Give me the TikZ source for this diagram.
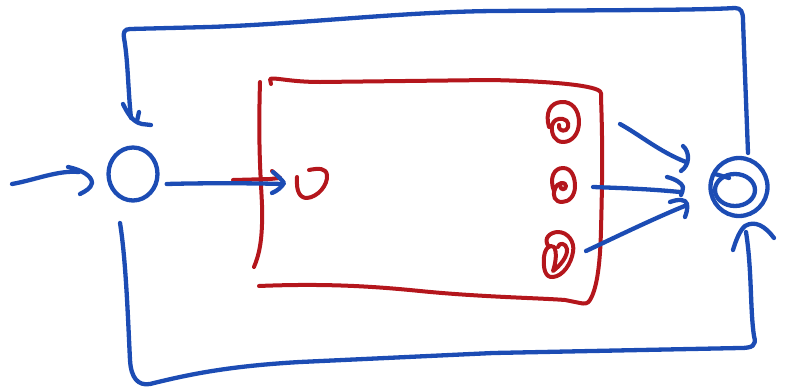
\documentclass[tikz,border=0pt]{standalone}
\usetikzlibrary{shapes.geometric}
\definecolor{inkblue}{RGB}{28,76,180}
\definecolor{inkred}{RGB}{180,22,28}
\begin{document}
\begin{tikzpicture}[x=1pt,y=-1pt,
  blueink/.style={draw=inkblue,line width=4.3pt,line cap=round,line join=round},
  redink/.style={draw=inkred,line width=4pt,line cap=round,line join=round},
  loopnode/.style={ellipse,draw=inkblue,line width=4.3pt,inner sep=0pt}]
\useasboundingbox (0,0) rectangle (785,389);

% ---------- nodes ----------
\node[loopnode,minimum width=49pt,minimum height=53pt] (A) at (133,174) {};
\node[loopnode,minimum width=57pt,minimum height=58pt] (C) at (739,187) {};
\coordinate (B) at (312,184);
\coordinate (R1) at (563,122);
\coordinate (R2) at (563,185);
\coordinate (R3) at (558,255);

% ---------- red box ----------
\draw[redink] (260,82) .. controls (258,150) and (261,180) .. (262,205)
  .. controls (263,240) and (259,255) .. (254,267);
\draw[redink] (271,84) -- (270,79) .. controls (274,77) and (290,82) .. (320,82)
  -- (490,80) .. controls (540,81) and (585,84) .. (598,90)
  .. controls (602,92) and (601,94) .. (601,98)
  .. controls (603,150) and (602,190) .. (601,230)
  .. controls (600,270) and (596,290) .. (590,300)
  .. controls (588,304) and (584,304) .. (580,303);
\draw[redink] (259,286) .. controls (330,283) and (380,287) .. (420,291)
  .. controls (480,297) and (540,298) .. (565,300) -- (580,303);
\draw[redink] (233,180) -- (270,179) -- (280,178);
\draw[redink] (272,171) -- (280,178);

% red glyphs
\draw[redink] (B) ++(-15,-7) .. controls +(-1,15) and +(-7,0) .. ++(10,21)
  .. controls +(11,-1) and +(1,10) .. ++(20,-23)
  .. controls +(-1,-7) and +(10,-2) .. ++(-18,-5);
\draw[redink] (549,127) .. controls (545,113) and (550,103) .. (561,102)
  .. controls (572,101) and (579,110) .. (579,122)
  .. controls (579,134) and (572,142) .. (563,142)
  .. controls (555,142) and (551,134) .. (552,126)
  .. controls (553,120) and (558,118) .. (563,119)
  .. controls (569,120) and (570,127) .. (566,130)
  .. controls (562,132) and (558,129) .. (559,125);
\draw[redink] (554,191) .. controls (549,178) and (554,168) .. (563,168)
  .. controls (572,168) and (575,178) .. (575,186)
  .. controls (575,196) and (569,202) .. (562,202)
  .. controls (555,202) and (552,196) .. (555,189)
  .. controls (557,182) and (566,181) .. (566,186)
  .. controls (566,190) and (560,191) .. (560,185);
\draw[redink] (549,247) .. controls (542,238) and (551,232) .. (558,232)
  .. controls (568,232) and (575,242) .. (573,252)
  .. controls (571,264) and (563,276) .. (553,277)
  .. controls (545,278) and (543,268) .. (544,257)
  .. controls (545,248) and (550,244) .. (554,247)
  .. controls (557,252) and (556,262) .. (553,271)
  .. controls (560,266) and (568,256) .. (567,249)
  .. controls (566,243) and (559,242) .. (558,247);

% ---------- blue strokes ----------
% inner loop of right node
\draw[blueink] (C.center) ++(-4,3) ellipse [x radius=20pt,y radius=16pt];
\draw[blueink] (715,174) -- (729,178);

% input arrow
\coordinate (in) at (12,184);
\draw[blueink] (in) .. controls (35,180) and (58,170) .. (79,172);
\draw[blueink] (68,167) .. controls (82,170) and (92,176) .. (92,183)
  .. controls (91,188) and (86,191) .. (80,194);

% A -> B
\draw[blueink] (A.east) ++(7,10) .. controls (200,183) and (250,183) .. (282,184);
\draw[blueink] (273,172) .. controls (278,176) and (282,180) .. (284,183)
  .. controls (282,187) and (277,191) .. (272,193);

% glyphs -> C
\draw[blueink] (620,124) .. controls (640,135) and (660,152) .. (686,162);
\draw[blueink] (683,146) .. controls (690,152) and (690,165) .. (681,171);
\draw[blueink] (593,187) .. controls (620,188) and (650,189) .. (680,192);
\draw[blueink] (667,177) .. controls (675,179) and (682,183) .. (683,187)
  .. controls (683,190) and (682,193) .. (681,195);
\draw[blueink] (586,251) .. controls (620,235) and (655,218) .. (687,205);
\draw[blueink] (670,202) .. controls (678,199) and (686,199) .. (687,204)
  .. controls (688,209) and (686,214) .. (685,217);

% feedback loop over the top: C -> A
\draw[blueink] (748,153) .. controls (746,100) and (744,50) .. (743,20)
  .. controls (743,12) and (741,8) .. (735,8)
  .. controls (700,10) and (640,10) .. (493,11)
  .. controls (400,12) and (300,24) .. (209,27) -- (130,29)
  .. controls (124,29) and (123,33) .. (124,38)
  .. controls (128,60) and (128,90) .. (131,118);
\draw[blueink] (123,104) .. controls (127,112) and (132,122) .. (142,124) -- (151,125);
\draw[blueink] (139,112) -- (137,121);

% feedback loop under the bottom: A -> C
\draw[blueink] (120,223) .. controls (126,260) and (128,320) .. (130,360)
  .. controls (131,378) and (138,386) .. (150,384)
  .. controls (190,374) and (230,366) .. (300,362)
  -- (493,353) -- (740,348)
  .. controls (752,348) and (757,346) .. (754,336)
  .. controls (750,310) and (752,270) .. (746,232);
\draw[blueink] (733,250) .. controls (736,240) and (740,230) .. (745,226)
  .. controls (755,220) and (765,226) .. (774,238);
\end{tikzpicture}
\end{document}
